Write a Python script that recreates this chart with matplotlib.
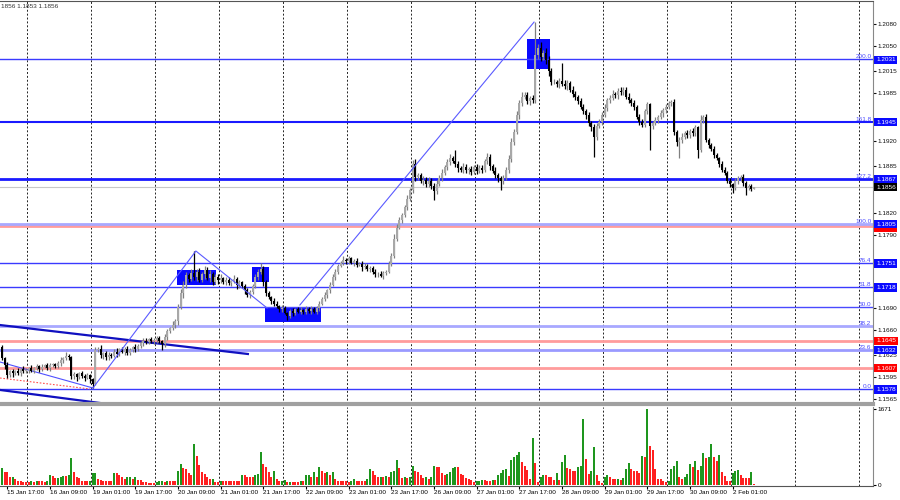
import numpy as np
import matplotlib
matplotlib.use('Agg')
import matplotlib.pyplot as plt
from matplotlib.patches import Rectangle
import matplotlib.transforms as mtransforms

plt.rcParams['font.family'] = ['Liberation Sans', 'DejaVu Sans']

# prices kept in pips above 1.1500
base = 1.15
pip = 0.0001
first_open = 136

closes = [
    121, 112, 98, 103, 100,
    104, 101, 106, 103, 105, 108, 104, 107, 110, 106, 109, 112, 108, 111, 113, 110, 114,
    118, 121, 124, 122, 96,
    99, 95, 100, 97, 94, 98, 92, 86, 132,
    134, 125, 128, 122, 126, 124, 130, 127, 133,
    130, 134, 128, 132, 136, 133, 138, 142, 145, 143, 147, 144, 146,
    148, 144, 140, 150, 158, 162, 167, 172, 191, 210, 222,
    235, 230, 238, 232, 240, 229, 236, 242, 231, 237, 226, 233,
    228, 231, 226, 229, 224, 227, 230, 222, 225, 220,
    214, 208, 212, 220, 232, 240, 244, 225, 210,
    205, 200, 196, 192, 188, 190, 183, 179,
    186, 183, 188, 185, 187, 184, 189, 186, 188, 185, 190,
    196, 202, 208, 214, 222, 232, 240, 248, 252, 256, 254, 258,
    252, 254, 249, 251, 246, 248, 243, 245, 240, 236,
    237, 234, 238, 240, 250, 262, 285, 300, 311, 318, 328, 340,
    352, 388, 370, 372, 364, 366, 360, 365, 358, 350, 360,
    368, 376, 384, 390, 396, 392, 388,
    382, 380, 384, 379, 381, 377, 383, 378, 382, 380,
    392, 398, 385, 378, 372, 368, 364, 369,
    380, 395, 418, 432, 455, 471, 480, 482, 474, 478, 475, 537,
    547, 535, 540, 530, 515, 500,
    500, 497, 502, 498, 495, 499,
    490, 484, 480, 474, 466, 460, 455,
    444, 438, 425, 440, 446, 455, 465, 475,
    478, 484, 482, 488, 486, 490, 480, 476, 472, 466,
    452, 446, 442, 460, 470, 440, 444,
    448, 452, 458, 462, 466, 471, 473, 432,
    418, 421, 425, 430, 427, 433, 430, 438, 407, 448, 452,
    421, 414, 408, 400, 396, 388, 380, 376,
    365, 360, 355, 364, 368, 370, 362, 355, 358, 353, 356,
]

up_wick = [
    3, 2, 4, 2, 3, 1, 3, 2, 4, 2, 1, 3, 2, 3, 2, 4, 1, 2, 3, 2,
    2, 3, 4, 2, 5, 3, 2, 3, 1, 2, 4, 2, 3, 1, 2, 4, 3, 5, 2, 3,
    4, 2, 3, 5, 2, 3, 2, 4, 3, 2, 5, 3, 2, 3, 4, 2, 3, 2, 4, 3,
    2, 4, 3, 2, 5, 3, 4, 6, 5, 4, 3, 6, 30, 4, 5, 3, 6, 4, 5, 3,
    4, 3, 5, 2, 4, 3, 2, 5, 3, 4, 2, 3, 4, 2, 3, 5, 4, 8, 3, 4,
    3, 2, 4, 3, 2, 4, 3, 2, 3, 4, 2, 3, 4, 2, 3, 2, 4, 3, 2, 3,
    3, 4, 2, 3, 5, 4, 3, 2, 5, 3, 4, 2, 3, 4, 2, 3, 4, 2, 3, 2,
    3, 2, 4, 3, 2, 5, 4, 6, 5, 4, 3, 4, 5, 3, 5, 6, 4, 3, 5, 4,
    5, 4, 3, 6, 4, 5, 3, 4, 5, 3, 15, 4, 3, 5, 4, 3, 4, 3, 5, 4,
    4, 3, 5, 4, 3, 5, 4, 3, 4, 3, 5, 6, 4, 5, 4, 6, 5, 4, 3, 4,
    46, 6, 8, 5, 7, 6, 4, 5, 3, 4, 24, 5, 4, 3, 5, 4, 3, 5, 4, 3,
    4, 3, 5, 4, 3, 4, 5, 3, 4, 5, 3, 4, 6, 3, 4, 5, 3, 4, 3, 4,
    3, 3, 3, 2, 3, 4, 3, 4, 3, 4, 3, 2, 4, 3, 4, 5, 3, 4, 3, 4,
    3, 2, 7, 3, 4, 3, 2, 4, 3, 2, 4, 3, 2, 3, 2, 4, 3, 3, 4, 2,
    2, 2, 0,
]

low_wick = [
    2, 6, 4, 3, 5, 2, 3, 4, 2, 3, 4, 2, 3, 2, 4, 3, 2, 3, 4, 2,
    3, 2, 4, 3, 2, 3, 4, 3, 5, 2, 3, 4, 2, 5, 6, 2, 3, 4, 5, 3,
    4, 3, 2, 5, 3, 2, 4, 3, 2, 3, 4, 2, 3, 4, 2, 3, 2, 3, 4, 2,
    8, 3, 4, 2, 3, 4, 5, 3, 6, 4, 5, 3, 4, 5, 3, 4, 6, 3, 5, 4,
    3, 5, 4, 3, 5, 3, 4, 3, 6, 4, 3, 5, 3, 4, 3, 2, 4, 3, 5, 4,
    3, 4, 3, 2, 4, 3, 2, 6, 3, 4, 3, 2, 4, 3, 2, 3, 4, 2, 3, 4,
    2, 3, 4, 3, 2, 3, 4, 2, 3, 4, 3, 2, 4, 3, 2, 5, 3, 2, 4, 3,
    4, 3, 2, 4, 3, 2, 3, 4, 3, 2, 4, 3, 4, 3, 4, 5, 4, 3, 5, 4,
    4, 5, 12, 4, 3, 4, 3, 5, 4, 3, 4, 5, 3, 4, 3, 5, 4, 3, 4, 3,
    4, 3, 4, 5, 3, 4, 5, 12, 4, 3, 4, 5, 4, 3, 5, 4, 3, 4, 5, 4,
    4, 5, 6, 4, 5, 6, 4, 3, 4, 5, 3, 4, 5, 3, 4, 5, 4, 3, 4, 5,
    4, 5, 28, 4, 3, 4, 3, 5, 4, 3, 4, 5, 3, 4, 3, 4, 5, 4, 3, 4,
    3, 4, 4, 33, 4, 3, 4, 3, 5, 4, 3, 4, 4, 5, 22, 4, 3, 4, 3, 4,
    4, 11, 3, 4, 3, 4, 3, 4, 3, 4, 3, 4, 3, 4, 7, 3, 4, 3, 4, 10,
    3, 2, 0,
]

volumes = [
    367, 293, 293, 169, 183, 125, 95, 80, 73, 66, 66, 95, 66, 95, 88, 88, 73, 95,
    213, 198, 147, 161, 183, 198, 198, 220, 586, 286, 169, 154, 88, 88, 80, 88,
    264, 271, 125, 110, 95, 95, 95, 95, 271, 257, 227, 176, 139, 169, 183, 139,
    183, 110, 110, 73, 59, 51, 51, 37, 59, 88, 95, 73, 95, 95, 95, 95,
    315, 462, 374, 359, 271, 213, 902, 638, 432, 293, 242, 169, 125, 132, 66, 66,
    95, 95, 95, 95, 95, 95, 95, 95, 227, 227, 169, 169, 169, 213, 242, 726,
    454, 403, 293, 169, 315, 139, 88, 95, 103, 66, 73, 73, 66, 66, 95, 95,
    213, 227, 176, 286, 183, 403, 315, 257, 286, 213, 286, 139, 95, 95, 95,
    80, 73, 80, 125, 95, 80, 80, 80, 125, 344, 315, 227, 169, 183, 169, 198,
    183, 286, 301, 550, 367, 147, 183, 147, 183, 418, 301, 286, 220, 147, 169,
    139, 183, 418, 403, 403, 271, 227, 242,
    286, 374, 403, 389, 242, 227, 154, 125, 110, 66, 80, 95, 110, 110, 95, 95,
    110, 110, 227, 257, 330, 344, 198, 550, 623, 667, 726, 506, 418, 330, 139,
    1034, 491, 66, 183, 227, 213, 183, 169, 110, 271, 110, 506, 667, 374, 359,
    315, 301, 403, 418, 1459, 564, 242, 315, 843, 227, 95, 51, 183, 227, 169,
    139, 125, 139, 110, 154, 344, 476, 344, 315, 301, 271, 638, 623, 1664, 858,
    770, 344, 139, 139, 95, 66, 95, 344, 418, 535, 183, 139, 169, 242, 462, 403,
    520, 330, 418, 711, 594, 623, 902, 623, 520, 652, 286, 198, 95, 80, 271, 315,
    330, 227, 154, 154, 154, 286, 22,
]

time_labels = ['15 Jan 17:00', '16 Jan 09:00', '19 Jan 01:00', '19 Jan 17:00',
               '20 Jan 09:00', '21 Jan 01:00', '21 Jan 17:00', '22 Jan 09:00',
               '23 Jan 01:00', '23 Jan 17:00', '26 Jan 09:00', '27 Jan 01:00',
               '27 Jan 17:00', '28 Jan 09:00', '29 Jan 01:00', '29 Jan 17:00',
               '30 Jan 09:00', '2 Feb 01:00']

fib_low, fib_high = 1.1578, 1.1805
fib_levels = [0.0, 23.6, 38.2, 50.0, 61.8, 76.4, 100.0, 127.2, 161.8, 200.0]
blue_boxes = [1.2031, 1.1945, 1.1867, 1.1805, 1.1751, 1.1718, 1.1632, 1.1578]
red_levels = [1.1802, 1.1645, 1.1607]
last_price = 1.1856
# scale labels not hidden under the price boxes
price_ticks = [1.2080, 1.2050, 1.2015, 1.1985, 1.1920, 1.1885,
               1.1820, 1.1790, 1.1690, 1.1660, 1.1625, 1.1595, 1.1565]

# drawn objects (bar index, price)
zigzag_x, zigzag_y = [34.1, 72.7, 99.4], [1.1580, 1.17682, 1.16899]
leg_x, leg_y = [111.7, 199.5], [1.1694, 1.20827]
chan_up_x, chan_up_y = [-0.75, 92.2], [1.16665, 1.16267]
chan_lo_x, chan_lo_y = [-0.75, 36.7], [1.15773, 1.15594]
thin_x, thin_y = [-0.75, 34.1], [1.16157, 1.1580]
dot_x, dot_y = [-0.75, 33.0], [1.15937, 1.15786]
zones = [(65.6, 80.2, 1.17215, 1.17421), (93.7, 100.1, 1.17256, 1.17462),
         (98.6, 119.6, 1.16706, 1.16899), (196.9, 205.5, 1.20182, 1.20594)]

n = len(closes)
assert len(up_wick) == n and len(low_wick) == n and len(volumes) == n, (n, len(up_wick), len(low_wick), len(volumes))

c = np.array(closes, float)
o = np.concatenate([[first_open], c[:-1]])
hi = np.maximum(o, c) + np.array(up_wick)
lo = np.minimum(o, c) - np.array(low_wick)
o, c, hi, lo = [base + a * pip for a in (o, c, hi, lo)]
idx = np.arange(n)
up = c >= o

fig = plt.figure(figsize=(9, 5), dpi=100)
ax = fig.add_axes([0, 0.192, 0.97, 0.805])
axv = fig.add_axes([0, 0.028, 0.97, 0.158], sharex=ax)

xmin, xmax = -0.75, 326.6
ax.set_xlim(xmin, xmax)
ax.set_ylim(1.1558, 1.2111)

for a in (ax, axv):
    for g in np.arange(9.375, xmax, 24):
        a.axvline(g, color='#222222', lw=0.7, ls=(0, (2, 2)), zorder=0)
    a.spines['left'].set_visible(False)
    a.spines['right'].set_color('#888888')
    a.spines['top'].set_color('#555555')
    a.spines['bottom'].set_color('#555555')
ax.spines['bottom'].set_color('#a0a0a0')
ax.spines['bottom'].set_linewidth(3)
axv.spines['top'].set_visible(False)

# zones
for x0, x1, y0, y1 in zones:
    ax.add_patch(Rectangle((x0, y0), x1 - x0, y1 - y0, fc='#0a0aff', ec='none', zorder=1))

# fibonacci levels and horizontal lines
fib_style = {0.0: ('#3a3aff', 1.0), 23.6: ('#9a9aff', 2.0), 38.2: ('#a8a8ff', 2.0),
             50.0: ('#4a4aff', 1.0), 61.8: ('#3a3aff', 1.0), 76.4: ('#3a3aff', 1.0),
             100.0: ('#a8a8ff', 2.0), 127.2: ('#1a1aff', 2.0), 161.8: ('#1a1aff', 1.5),
             200.0: ('#3a3aff', 1.0)}
for r in red_levels:
    ax.axhline(r, color='#ff9c9c', lw=2, zorder=2)
ax.axhline(last_price, color='#c8c8c8', lw=0.8, zorder=2)
for lvl in fib_levels:
    p = fib_low + (fib_high - fib_low) * lvl / 100
    col, lw = fib_style[lvl]
    ax.axhline(p, color=col, lw=lw, zorder=2)
    ax.text(xmax - 0.6, p + 0.00004, '%.1f' % lvl, color='#4a4aff', fontsize=4.6,
            ha='right', va='bottom', zorder=5)

# trend lines
ax.plot(chan_up_x, chan_up_y, color='#1010c0', lw=1.6, zorder=2)
ax.plot(chan_lo_x, chan_lo_y, color='#1010c0', lw=1.6, zorder=2)
ax.plot(thin_x, thin_y, color='#5050ff', lw=0.8, zorder=2)
ax.plot(dot_x, dot_y, color='#ff5050', lw=0.8, ls=(0, (1.5, 1.5)), zorder=2)

# candles
ax.vlines(idx[up], lo[up], hi[up], color='#808080', lw=0.9, zorder=3)
ax.vlines(idx[~up], lo[~up], hi[~up], color='#000000', lw=0.9, zorder=3)
body = np.maximum(np.abs(c - o), 0.00005)
ax.bar(idx[up], body[up], bottom=np.minimum(o, c)[up], width=0.8, color='#a8a8a8', lw=0, zorder=3)
ax.bar(idx[~up], body[~up], bottom=np.minimum(o, c)[~up], width=0.8, color='#000000', lw=0, zorder=3)

ax.plot(zigzag_x, zigzag_y, color='#5a5aff', lw=0.8, zorder=4)
ax.plot(leg_x, leg_y, color='#5a5aff', lw=0.8, zorder=4)

# price axis
ax.yaxis.tick_right()
ax.set_yticks(price_ticks)
ax.set_yticklabels(['%.4f' % t for t in price_ticks])
ax.tick_params(axis='y', labelsize=4.6, length=2, pad=1.5, colors='#111111')
ax.tick_params(axis='x', bottom=False, labelbottom=False)

ytr = mtransforms.blended_transform_factory(ax.transAxes, ax.transData)
# the red 1.1803 label sits under the blue 1.1805 one, only its lower edge shows
ax.add_patch(Rectangle((1.0012, red_levels[0] - 0.00072), 0.0265, 0.0011, transform=ytr,
                       fc='#ff0000', ec='none', clip_on=False, zorder=5))
boxes = [(r, '#ff0000') for r in red_levels[1:]] + [(b, '#0a0aff') for b in blue_boxes] + [(last_price, '#000000')]
for val, col in boxes:
    ax.text(1.0035, val, '%.4f' % val, transform=ytr, fontsize=4.6, color='white',
            ha='left', va='center', clip_on=False, zorder=6,
            bbox=dict(boxstyle='square,pad=0.25', fc=col, ec='none'))

# volumes
vol = np.array(volumes, float)
rising = np.concatenate([[True], vol[1:] > vol[:-1]])
axv.bar(idx[rising], vol[rising], width=0.78, color='#1e961e', lw=0)
axv.bar(idx[~rising], vol[~rising], width=0.78, color='#ff2020', lw=0)
axv.set_ylim(-22, 1715)
axv.yaxis.tick_right()
axv.set_yticks([0, 1671])
axv.set_yticklabels(['0', '1671'])
axv.tick_params(axis='y', labelsize=4.6, length=2, pad=1.5)

tick_pos = [2 + 16 * k for k in range(len(time_labels))]
axv.set_xticks(tick_pos)
axv.set_xticklabels(time_labels)
axv.tick_params(axis='x', labelsize=4.6, length=2, pad=1)
for t in axv.get_xticklabels():
    t.set_ha('left')

fig.text(0.001, 0.987, '1856 1.1853 1.1856', fontsize=4.6, color='#333333', va='center')

fig.savefig('out.png', dpi=100)
